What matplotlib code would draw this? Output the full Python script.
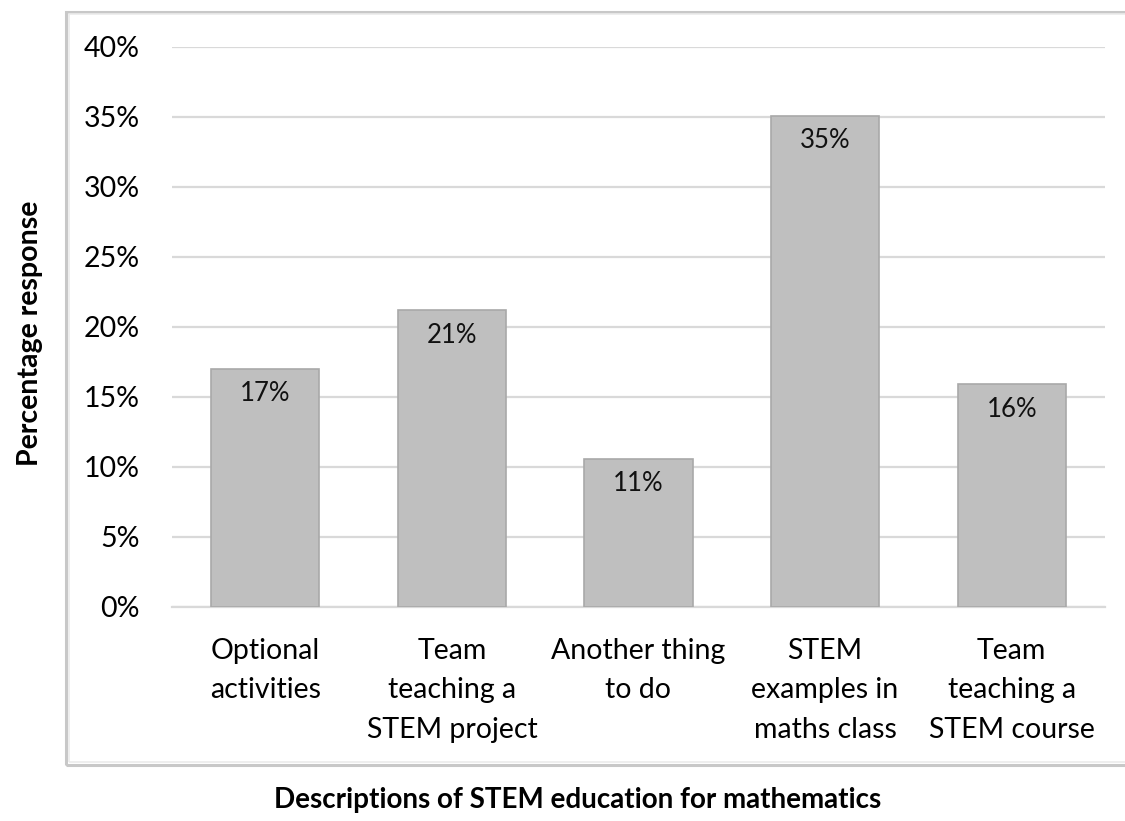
import matplotlib.pyplot as plt
from matplotlib.patches import Rectangle
from matplotlib.ticker import FuncFormatter

# ---- datos
categories = ['Optional\nactivities', 'Team\nteaching a\nSTEM project',
              'Another thing\nto do', 'STEM\nexamples in\nmaths class',
              'Team\nteaching a\nSTEM course']
responses = [0.170, 0.212, 0.106, 0.351, 0.159]
y_ticks = [0.0, 0.05, 0.10, 0.15, 0.20, 0.25, 0.30, 0.35, 0.40]

plt.rcParams['font.family'] = ['Lato', 'DejaVu Sans']

fig = plt.figure(figsize=(11.25, 8.21), dpi=100)
ax = fig.add_axes([0.1529, 0.2607, 0.8293, 0.6821])

# ---- marco del grafico
fig.patches.append(Rectangle((66 / 1125, 1 - 765 / 821), 1.1, (765 - 12) / 821,
                             transform=fig.transFigure, fill=False,
                             edgecolor='#C8C8C8', linewidth=2.2, zorder=0))
fig.patches.append(Rectangle((68.5 / 1125, 1 - 762 / 821), 1.1, (762 - 14.5) / 821,
                             transform=fig.transFigure, fill=False,
                             edgecolor='#EBEBEB', linewidth=1.2, zorder=0))

x = range(len(categories))
bars = ax.bar(x, responses, width=0.58, color='#BFBFBF',
              edgecolor='#A9A9A9', linewidth=1.2, zorder=3)

for b, v in zip(bars, responses):
    ax.annotate('{:.0%}'.format(v), (b.get_x() + b.get_width() / 2, v),
                xytext=(0, -18), textcoords='offset points',
                ha='center', va='center', fontsize=18.5, color='#111111',
                zorder=4)

# ---- ejes
ax.set_xlim(-0.5, len(categories) - 0.5)
ax.set_ylim(0, 0.40)
ax.set_yticks(y_ticks)
ax.yaxis.set_major_formatter(FuncFormatter(lambda v, p: '{:.0%}'.format(v)))
ax.set_xticks(list(x))
ax.set_xticklabels(categories, fontsize=20.5, linespacing=1.65)
ax.tick_params(axis='x', length=0, pad=22)
ax.tick_params(axis='y', length=0, pad=23, labelsize=20.5)

ax.grid(axis='y', color='#D9D9D9', linewidth=1.6, zorder=0)
ax.set_axisbelow(True)
for s in ['top', 'right', 'left']:
    ax.spines[s].set_visible(False)
ax.spines['bottom'].set_color('#D9D9D9')
ax.spines['bottom'].set_linewidth(1.6)

fig.text(30 / 1125, 1 - 333 / 821, 'Percentage response', rotation=90,
         ha='center', va='center', fontsize=20.5, fontweight='bold')
fig.text(578 / 1125, 1 - 800 / 821, 'Descriptions of STEM education for mathematics',
         ha='center', va='center', fontsize=20, fontweight='bold')

fig.savefig('out.png', dpi=100)
